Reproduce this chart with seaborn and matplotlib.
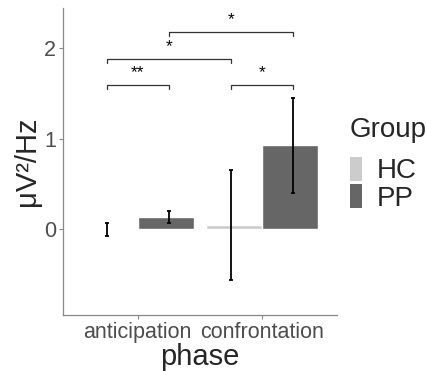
import matplotlib
matplotlib.use("Agg")
import matplotlib.pyplot as plt
import matplotlib.patches as mpatches
import pandas as pd
import seaborn as sns

# values
phases = ['anticipation', 'confrontation']
groups = ['HC', 'PP']
hc_mean = [-0.005, 0.045]
hc_err = [0.075, 0.605]
pp_mean = [0.136, 0.924]
pp_err = [0.065, 0.52]
colors = {'HC': '#cccccc', 'PP': '#666666'}

# significance brackets: (left, right) in dodged positions, height, label
sig_left = [-0.25, 0.75, -0.25, 0.25]
sig_right = [0.25, 1.25, 0.75, 1.25]
sig_y = [1.595, 1.595, 1.88, 2.18]
sig_label = ['**', '*', '*', '*']

df = pd.DataFrame({
    'phase': phases * 2,
    'Group': ['HC'] * 2 + ['PP'] * 2,
    'value': hc_mean + pp_mean,
    'err': hc_err + pp_err,
})

sns.set_style('white')
plt.rcParams['font.family'] = ['Liberation Sans', 'DejaVu Sans']

fig = plt.figure(figsize=(4.27, 3.71), dpi=100)
ax = fig.add_axes([63 / 427, 1 - 315 / 371, 274 / 427, 307 / 371])

sns.barplot(data=df, x='phase', y='value', hue='Group', order=phases,
            hue_order=groups, palette=colors, width=0.9, errorbar=None,
            saturation=1, legend=False, ax=ax)

# error bars, dodged a bit wider than the bars
for offset, g in zip([-0.25, 0.25], groups):
    sub = df[df['Group'] == g]
    xs = [phases.index(p) + offset for p in sub['phase']]
    ax.errorbar(xs, sub['value'], yerr=sub['err'], fmt='none',
                ecolor='black', elinewidth=1.3, capsize=1.6, capthick=1.3)

# significance brackets
tip = 0.045
for x1, x2, y, lab in zip(sig_left, sig_right, sig_y, sig_label):
    ax.plot([x1, x1, x2, x2], [y - tip, y, y, y - tip], color='#333333', lw=0.9)
    ax.text((x1 + x2) / 2, y + 0.05, lab, ha='center', va='bottom',
            fontsize=12.5, color='black')

ax.set_xlim(-0.6, 1.6)
ax.set_ylim(-0.947, 2.44)
ax.set_yticks([0, 1, 2])
ax.set_yticklabels(['0', '1', '2'])
ax.set_xlabel('phase', fontsize=21, labelpad=0)
ax.set_ylabel('μV²/Hz', fontsize=21, labelpad=2)
ax.tick_params(axis='both', labelsize=15.5, colors='#888888', labelcolor='#4d4d4d',
               length=3, width=0.8, direction='out', bottom=True, left=True, pad=2)
for side in ['top', 'right']:
    ax.spines[side].set_visible(False)
for side in ['left', 'bottom']:
    ax.spines[side].set_color('#888888')
    ax.spines[side].set_linewidth(0.9)

handles = [mpatches.Patch(facecolor=colors[g], edgecolor='none', label=g) for g in groups]
leg = fig.legend(handles=handles, title='Group', loc='upper left',
                 bbox_to_anchor=(350 / 427, 1 - 117 / 371), frameon=False,
                 fontsize=20, title_fontsize=20, handlelength=0.43, handleheight=0.95,
                 handletextpad=0.55, labelspacing=0, borderpad=0, borderaxespad=0,
                 alignment='left')
leg._legend_box.sep = 10

fig.savefig('out.png', dpi=100)
